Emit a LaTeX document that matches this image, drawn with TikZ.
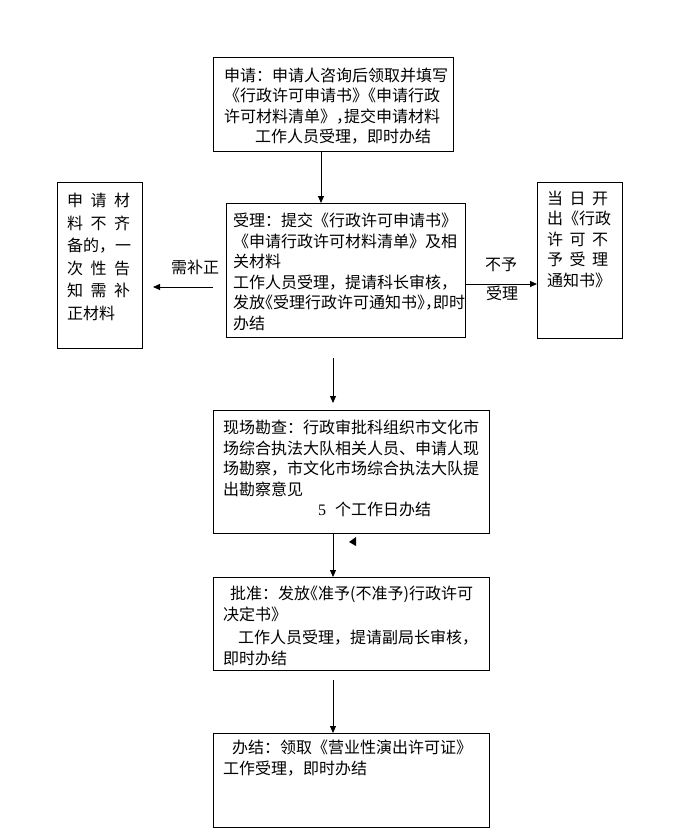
\documentclass[tikz,border=0pt]{standalone}
\usepackage{fontspec}
\setmainfont{Noto Sans CJK SC}
\newfontfamily\cjkh[RawFeature=+halt]{Noto Sans CJK SC}
\newfontfamily\latinserif{Liberation Serif}
\usetikzlibrary{arrows.meta}
\begin{document}
\begin{tikzpicture}[x=1bp,y=-1bp,
  box/.style={draw, line width=1bp, anchor=north west, inner sep=0pt},
  txt/.style={anchor=north west, inner sep=0pt, align=left, font=\fontsize{16bp}{20.5bp}\selectfont},
  vtxt/.style={anchor=north west, inner sep=0pt, align=left, font=\fontsize{16bp}{22.6bp}\selectfont},
  lbl/.style={inner sep=0pt, font=\fontsize{16bp}{20bp}\selectfont},
  arr/.style={line width=1bp, -{Triangle[length=7bp,width=6bp]}}]
\useasboundingbox (0,0) rectangle (696,834);
\fill[white] (0,0) rectangle (696,834);

% boxes
\node[box, minimum width=240bp, minimum height=94bp] (b1) at (213,57) {};
\node[box, minimum width=239bp, minimum height=134bp] (b2) at (226,203) {};
\node[box, minimum width=85bp, minimum height=166bp] (lb) at (57,182) {};
\node[box, minimum width=85bp, minimum height=156bp] (rb) at (537,182) {};
\node[box, minimum width=276bp, minimum height=123bp] (b3) at (213,410) {};
\node[box, minimum width=276bp, minimum height=93bp] (b4) at (213,577) {};
\node[box, minimum width=276bp, minimum height=94bp] (b5) at (213,733) {};

% texts
\node[txt] (t1) at (224,67.8) {申请：申请人咨询后领取并填写\\《行政许可申请书{\cjkh》}《申请行政\\许可材料清单》{\cjkh，}提交申请材料\\\hspace*{31bp}工作人员受理，即时办结};
\node[txt] (t2) at (233,212.8) {受理：提交《行政许可申请书》\\《申请行政许可材料清单》及相\\关材料\\工作人员受理，提请科长审核，\\发放{\cjkh《}受理行政许可通知书{\cjkh》，}即时\\办结};
\node[vtxt] (tl) at (67,192.8) {\makebox[63bp][s]{申\hfill 请\hfill 材}\\\makebox[63bp][s]{料\hfill 不\hfill 齐}\\备的，一\\\makebox[63bp][s]{次\hfill 性\hfill 告}\\\makebox[63bp][s]{知\hfill 需\hfill 补}\\正材料};
\node[txt] (tr) at (547,190.8) {\makebox[61bp][s]{当\hfill 日\hfill 开}\\出《行政\\\makebox[61bp][s]{许\hfill 可\hfill 不}\\\makebox[61bp][s]{予\hfill 受\hfill 理}\\通知书》};
\node[txt] (t3) at (223,419.8) {现场勘查：行政审批科组织市文化市\\场综合执法大队相关人员、申请人现\\场勘察，市文化市场综合执法大队提\\出勘察意见\\\hspace*{95bp}{\latinserif 5}\hspace{9bp}个工作日办结};
\node[txt] (t4) at (223,585.8) {\hspace*{7bp}批准：发放{\cjkh《}准予(不准予)行政许可\\决定书》\\[3bp]\hspace*{15bp}工作人员受理，提请副局长审核，\\即时办结};
\node[txt] (t5) at (223,739.8) {\hspace*{9bp}办结：领取《营业性演出许可证》\\工作受理，即时办结};

% labels
\node[lbl] (l1) at (195,267) {需补正};
\node[lbl] (l2) at (501,265) {不予};
\node[lbl] (l3) at (502,293) {受理};

% connectors
\coordinate (a1) at (321,0);
\draw[arr] (b1.south -| a1) -- (b2.north -| a1);
\coordinate (c2s) at (333,358);
\coordinate (c2e) at (333,403);
\draw[arr] (c2s) -- (c2e);
\draw[arr] (b3.south -| c2s) -- (b4.north -| c2s);
\coordinate (c4s) at (333,680);
\draw[arr] (c4s) -- (b5.north -| c4s);
\coordinate (cl1) at (213,287);
\coordinate (cl2) at (153,287);
\draw[arr] (cl1) -- (cl2);
\coordinate (cr) at (0,284);
\draw[arr] (b2.east |- cr) -- (rb.west |- cr);

% stray arrowhead fragment
\fill (349,542) -- (356,537) -- (356,546) -- cycle;
\end{tikzpicture}
\end{document}
